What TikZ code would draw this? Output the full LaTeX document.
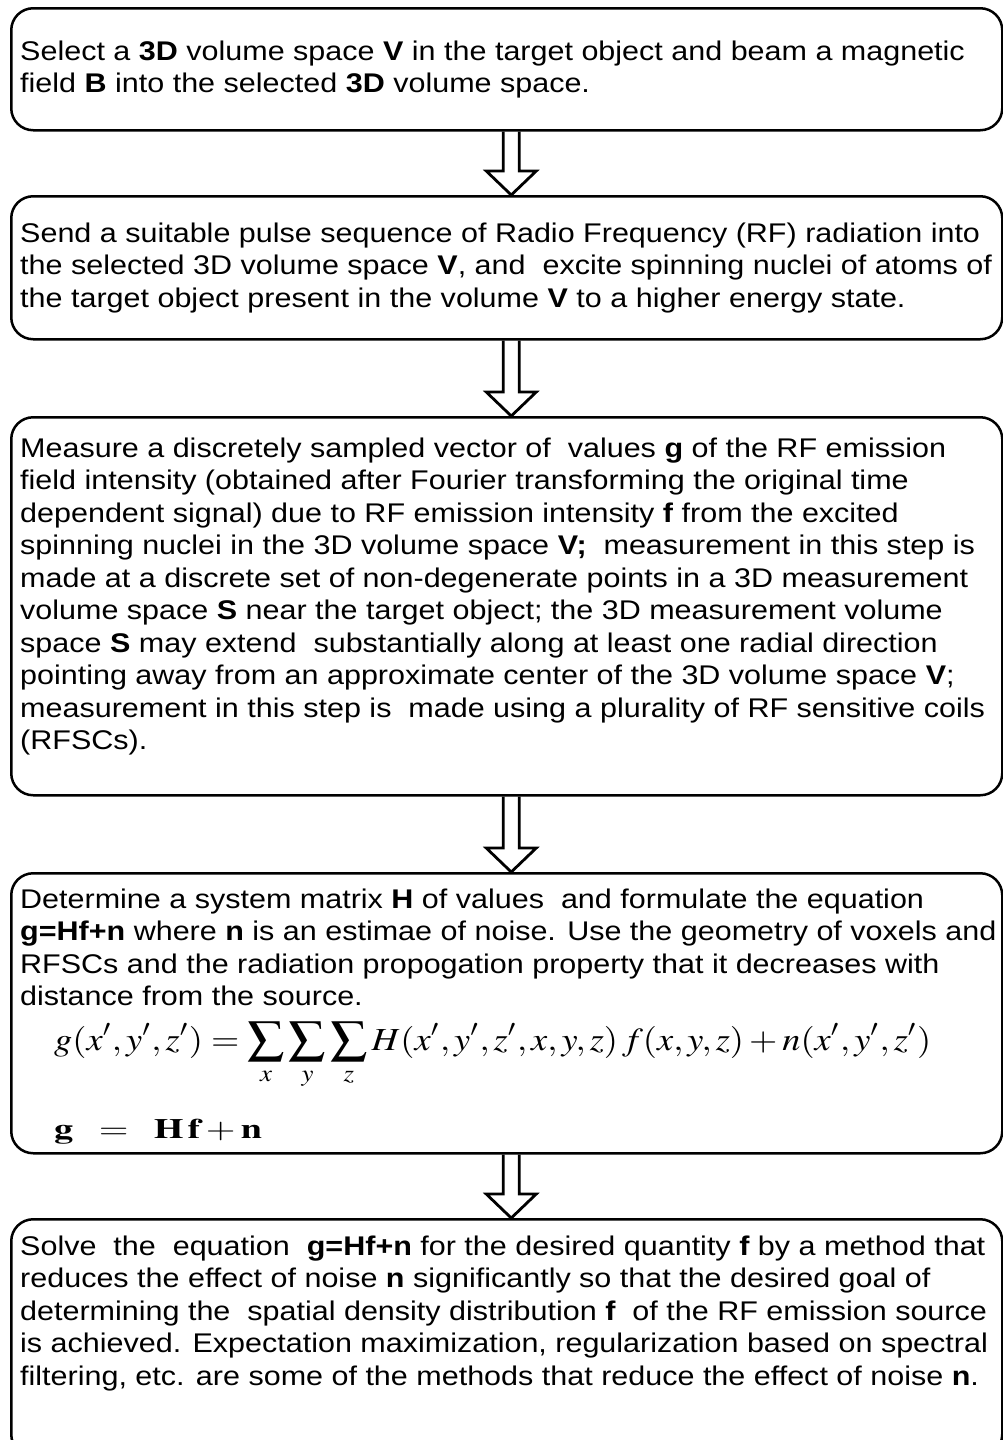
\documentclass[tikz,border=0pt]{standalone}
\usepackage{mathptmx}
\usepackage[no-math]{fontspec}
\setmainfont{Liberation Sans}[FakeStretch=1.13]
\usepackage{graphicx}
\usetikzlibrary{calc}
\tikzset{
  stepbox/.style={draw, line width=2.5pt, rounded corners=22pt, anchor=north west,
    inner sep=0pt, minimum width=991pt},
  txt/.style={anchor=north west, align=left, inner sep=0pt,
    font=\fontsize{27pt}{32.5pt}\selectfont},
  blockarrow/.style={draw, line width=2.8pt, line join=miter},
}
\begin{document}
\begin{tikzpicture}[x=1pt,y=-1pt]
\useasboundingbox (0,0) rectangle (1003,1440);

% boxes
\node[stepbox, minimum height=122pt] (b1) at (10,7) {};
\node[stepbox, minimum height=143pt] (b2) at (10,195) {};
\node[stepbox, minimum height=378pt] (b3) at (10,416) {};
\node[stepbox, minimum height=280pt] (b4) at (10,872) {};
\node[stepbox, minimum height=237pt] (b5) at (10,1218) {};

% texts
\node[txt] (t1) at (20,40.5) {Select a \textbf{3D} volume space \textbf{V} in the target object and beam a magnetic\\field \textbf{B} into the selected \textbf{3D} volume space.};

\node[txt] (t2) at (20,222.5) {Send a suitable pulse sequence of Radio Frequency (RF) radiation into\\the selected 3D volume space \textbf{V}, and\ \ excite spinning nuclei of atoms of\\the target object present in the volume \textbf{V} to a higher energy state.};

\node[txt] (t3) at (20,437.5) {Measure a discretely sampled vector of\ \ values \textbf{g} of the RF emission\\
field intensity (obtained after Fourier transforming the original time\\
dependent signal) due to RF emission intensity \textbf{f} from the excited\\
spinning nuclei in the 3D volume space \textbf{V;}\ \ measurement in this step is\\
made at a discrete set of non-degenerate points in a 3D measurement\\
volume space \textbf{S} near the target object; the 3D measurement volume\\
space \textbf{S} may extend\ \ substantially along at least one radial direction\\
pointing away from an approximate center of the 3D volume space \textbf{V};\\
measurement in this step is\ \ made using a plurality of RF sensitive coils\\
(RFSCs).};

\node[txt] (t4) at (20,888.5) {Determine a system matrix \textbf{H} of values\ \ and formulate the equation\\
\textbf{g=Hf+n} where \textbf{n} is an estimae of noise. Use the geometry of voxels and\\
RFSCs and the radiation propogation property that it decreases with\\
distance from the source.};

\node[anchor=north west, inner sep=0pt] (eq1) at (54,1022)
  {\resizebox*{877pt}{67pt}{$\displaystyle g(x',y',z') = \sum_x\sum_y\sum_z H(x',y',z',x,y,z)\,f(x,y,z)+n(x',y',z')$}};

\node[anchor=north west, inner sep=0pt] (eq2) at (54,1119)
  {\resizebox*{208pt}{25pt}{$\mathbf{g}\;\;=\;\;\mathbf{H\,f}+\mathbf{n}$}};

\node[txt] (t5) at (20,1235.5) {Solve\ \ the\ \ equation\ \ \textbf{g=Hf+n} for the desired quantity \textbf{f} by a method that\\
reduces the effect of noise \textbf{n} significantly so that the desired goal of\\
determining the\ \ spatial density distribution \textbf{f}\ \ of the RF emission source\\
is achieved. Expectation maximization, regularization based on spectral\\
filtering, etc. are some of the methods that reduce the effect of noise \textbf{n}.};

% arrows
\foreach \a/\b in {b1/b2, b2/b3, b3/b4, b4/b5}{
  \draw[blockarrow] let \p1=($(\a.south)+(4.5,0)$), \p2=($(\b.north)+(4.5,0)$) in
    (\x1-8pt,\y1) -- (\x1-8pt,\y2+24pt) -- (\x1-25pt,\y2+24pt) -- (\x1,\y2)
    -- (\x1+25pt,\y2+24pt) -- (\x1+8pt,\y2+24pt) -- (\x1+8pt,\y1);
}
\end{tikzpicture}
\end{document}
